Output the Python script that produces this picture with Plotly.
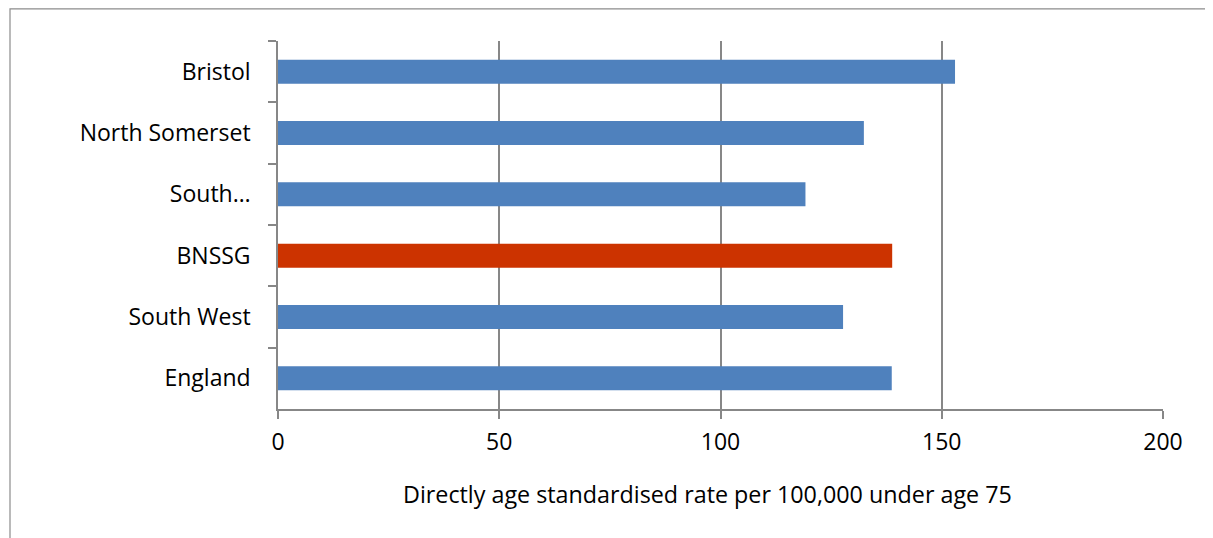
import plotly.graph_objects as go

categories = ["Bristol", "North Somerset", "South…", "BNSSG", "South West", "England"]
values = [153.0, 132.4, 119.2, 138.8, 127.7, 138.7]
bar_colors = ["#4F81BD", "#4F81BD", "#4F81BD", "#CC3300", "#4F81BD", "#4F81BD"]
x_ticks = [0, 50, 100, 150, 200]
x_title = "Directly age standardised rate per 100,000 under age 75"

axis_grey = "#878787"
font_family = "Open Sans, Lato, sans-serif"

# plot area in figure pixels (page is offset by 8px body margin)
L, R, T, B = 270, 1155, 33, 401
W, H = R - L, B - T

fig = go.Figure(
    go.Bar(
        y=categories,
        x=values,
        orientation="h",
        marker=dict(color=bar_colors, line=dict(width=0)),
        width=0.39,
    )
)

fig.update_layout(
    width=1213,
    height=538,
    paper_bgcolor="white",
    plot_bgcolor="white",
    margin=dict(l=L, r=1213 - R, t=T, b=538 - B),
    showlegend=False,
    font=dict(family=font_family, size=23, color="black"),
    shapes=[
        dict(
            type="rect",
            xref="paper",
            yref="paper",
            x0=(2 - L) / W,
            x1=1.3,
            y0=-0.6,
            y1=(B - 0.8) / H,
            line=dict(color="#8c8c8c", width=1.2),
            fillcolor="rgba(0,0,0,0)",
            layer="below",
        )
    ],
    annotations=[
        dict(
            text=x_title,
            xref="paper",
            yref="paper",
            x=(699 - L) / W,
            y=(B - 486) / H,
            xanchor="center",
            yanchor="middle",
            showarrow=False,
            font=dict(size=23.3),
        )
    ],
)

fig.update_xaxes(
    range=[0, 200],
    tickvals=x_ticks,
    ticktext=[str(t) for t in x_ticks],
    showgrid=True,
    gridcolor=axis_grey,
    gridwidth=1.6,
    showline=True,
    linecolor=axis_grey,
    linewidth=1.6,
    ticks="outside",
    ticklen=8,
    tickcolor=axis_grey,
    tickwidth=1.6,
    zeroline=False,
    tickfont=dict(size=23),
    ticklabelstandoff=4,
)

fig.update_yaxes(
    autorange="reversed",
    type="category",
    showline=True,
    linecolor=axis_grey,
    linewidth=1.6,
    ticks="outside",
    tickson="boundaries",
    ticklen=8,
    tickcolor=axis_grey,
    tickwidth=1.6,
    showgrid=False,
    tickfont=dict(size=23),
    ticklabelstandoff=21,
)

fig.write_html("out.html")
